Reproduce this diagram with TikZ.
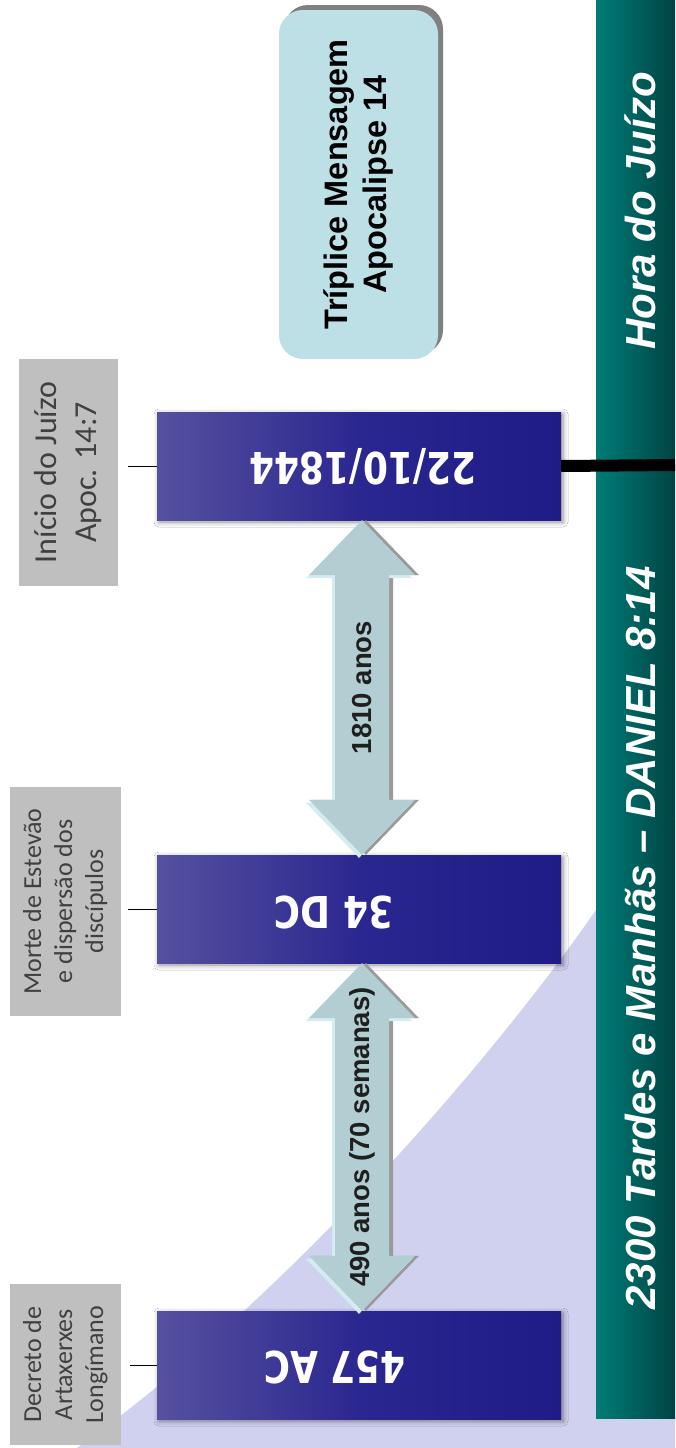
\documentclass[tikz,border=0pt]{standalone}
\usepackage{fontspec}
\newfontfamily\lsans{Liberation Sans}
\newfontfamily\dvs{DejaVu Sans}
\newfontfamily\carl{Carlito}
\usetikzlibrary{calc,shadows,shadows.blur}
\definecolor{teallight}{HTML}{007C76}
\definecolor{tealdark}{HTML}{004444}
\definecolor{lav}{HTML}{D0D0EF}
\definecolor{bboxL}{HTML}{55519F}
\definecolor{bboxM}{HTML}{2B2790}
\definecolor{bboxR}{HTML}{1F1B87}
\definecolor{lblgray}{HTML}{BFBFBF}
\definecolor{lbltext}{HTML}{404040}
\definecolor{tripfill}{HTML}{BDE0E6}
\definecolor{tripshadow}{HTML}{808080}
\definecolor{arrfill}{HTML}{B3CED2}
\definecolor{arrhi}{HTML}{D2ECEF}
\definecolor{arrsh}{HTML}{9A9A9A}
\newcommand\blockarrow[3]{%
  \fill[#3] let \p1=(#1), \p2=(#2) in
    (\x1,\y1) -- (\x1+53pt,\y1-55pt) -- (\x1+27pt,\y1-55pt) -- (\x2+27pt,\y2+55pt)
    -- (\x2+53pt,\y2+55pt) -- (\x2,\y2) -- (\x2-53pt,\y2+55pt) -- (\x2-27pt,\y2+55pt)
    -- (\x1-27pt,\y1-55pt) -- (\x1-53pt,\y1-55pt) -- cycle;}
\tikzset{
 tealbar/.style={rectangle, minimum width=79pt, minimum height=1418pt, inner sep=0pt, left color=teallight, right color=tealdark},
 datebox/.style={rectangle, minimum width=404pt, minimum height=108pt, inner sep=0pt, left color=bboxL, right color=bboxR, middle color=bboxM, blur shadow={shadow xshift=2pt, shadow yshift=-2pt, shadow blur radius=5pt, shadow opacity=45}},
 datetext/.style={text=white, font=\dvs\bfseries\fontsize{36}{40}\selectfont, rotate=180, inner sep=0pt},
 graylbl/.style={rectangle, fill=lblgray, rotate=90, inner sep=0pt, align=center, text=lbltext},
 tripbox/.style={rectangle, rounded corners=24pt, fill=tripfill, rotate=90, minimum width=349pt, minimum height=159pt, inner sep=0pt, align=center, font=\lsans\bfseries\fontsize{32.5}{39}\selectfont, text=black},
 bartext/.style={text=white, rotate=90, font=\lsans\bfseries\itshape\fontsize{42}{48}\selectfont, inner sep=0pt},
 arrlbl/.style={rotate=90, font=\lsans\bfseries\fontsize{27.5}{32}\selectfont, text=black!88, inner sep=0pt},
 tickline/.style={draw=black, line width=0.9pt},
 judgeline/.style={draw=black, line width=12pt},
 arrshadow/.style={fill=arrsh, transform canvas={xshift=4pt}},
 arrhigh/.style={fill=arrhi, transform canvas={xshift=-3pt, yshift=-3pt}},
 arrmain/.style={fill=arrfill},
}
\begin{document}
\begin{tikzpicture}[x=1pt,y=-1pt]
\useasboundingbox (0,0) rectangle (675,1448);
\fill[white] (0,0) rectangle (675,1448);
% lavender background sweep
\fill[lav] (77,1448) .. controls (285,1300) and (492,1060) .. (596,910) -- (660,820) -- (675,820) -- (675,1448) -- cycle;
% teal bar
\node[tealbar] (bar) at (635.5,709) {};
\node[bartext] (hora) at (640,211) {Hora do Juízo};
\node[bartext] (tardes) at (640,938) {2300 Tardes e Manhãs – DANIEL 8:14};
% Triplice mensagem box
\fill[tripshadow, rounded corners=24pt] (284,5) rectangle (443,354);
\node[tripbox] (tm) at (358.5,184.5) {Tríplice Mensagem\\Apocalipse 14};
% date boxes
\node[datebox] (b1) at (359,466) {};
\node[datebox] (b2) at (359,909) {};
\node[datebox] (b3) at (359,1365) {};
\node[datetext] (d1) at (363,467) {\scalebox{1}[1.22]{22/10/1844}};
\node[datetext] (d2) at (334,912) {\scalebox{1}[1.22]{34 DC}};
\node[datetext] (d3) at (335,1367) {\scalebox{1}[1.22]{457 AC}};
% judgement line
\coordinate (edge) at (675,465);
\draw[judgeline] (b1.east) -- (edge);
% gray labels
\node[graylbl, minimum width=227pt, minimum height=98.5pt, font=\carl\fontsize{32}{40}\selectfont] (g1) at (68.25,472.5) {Início do Juízo\\Apoc. 14:7};
\node[graylbl, minimum width=229pt, minimum height=111.5pt, font=\carl\fontsize{26}{31}\selectfont] (g2) at (65.25,901.5) {Morte de Estevão\\e dispersão dos\\discípulos};
\node[graylbl, minimum width=161pt, minimum height=111.5pt, font=\carl\fontsize{26}{31}\selectfont] (g3) at (65.25,1364.5) {Decreto de\\Artaxerxes\\Longímano};
% ticks
\coordinate (t1) at (128,466);
\coordinate (t2) at (128,909);
\coordinate (t3) at (130,1365);
\draw[tickline] (b1.west) -- (t1);
\draw[tickline] (b2.west) -- (t2);
\draw[tickline] (b3.west) -- (t3);
% block double arrows
\blockarrow{[xshift=3pt]b1.south}{[xshift=3pt]b2.north}{arrshadow}
\blockarrow{[xshift=3pt]b1.south}{[xshift=3pt]b2.north}{arrhigh}
\blockarrow{[xshift=3pt]b1.south}{[xshift=3pt]b2.north}{arrmain}
\blockarrow{[xshift=3pt]b2.south}{[xshift=3pt]b3.north}{arrshadow}
\blockarrow{[xshift=3pt]b2.south}{[xshift=3pt]b3.north}{arrhigh}
\blockarrow{[xshift=3pt]b2.south}{[xshift=3pt]b3.north}{arrmain}
\node[arrlbl] (a1) at ($([xshift=3pt]b1.south)!0.5!([xshift=3pt]b2.north)$) {1810 anos};
\node[arrlbl] (a2) at ($([xshift=3pt]b2.south)!0.5!([xshift=3pt]b3.north)$) {490 anos (70 semanas)};
\end{tikzpicture}
\end{document}
